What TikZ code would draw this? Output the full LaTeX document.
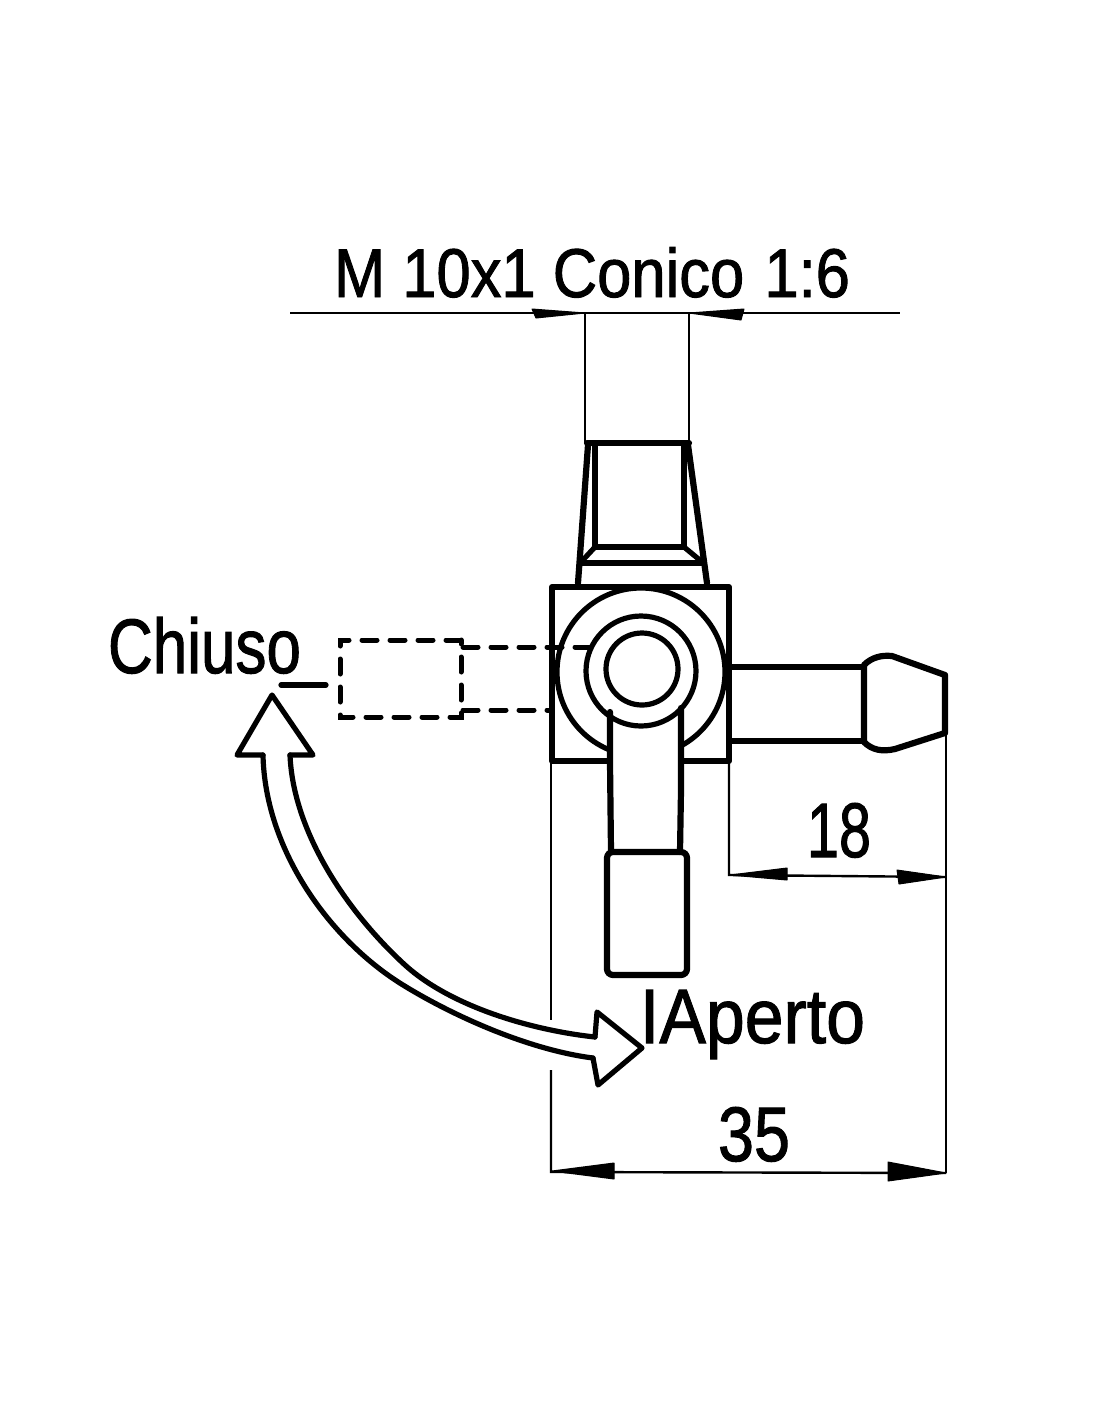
\documentclass[tikz,border=0pt]{standalone}
\usepackage{fontspec}
\usepackage{graphicx}
\setmainfont{Liberation Sans}[FakeBold=1.4]
\tikzset{
  heavy/.style={line width=6.2pt,line cap=round,line join=round},
  medium/.style={line width=5.2pt,line cap=round,line join=round},
  thin line/.style={line width=2.4pt},
  dash line/.style={line width=5pt,dash pattern=on 15pt off 13pt,line cap=round},
  head/.style={fill=black,draw=black,line width=1pt,line join=round},
  lab/.style={anchor=base west,inner sep=0pt,outer sep=0pt}
}
\newcommand{\fitlabel}[3]{\resizebox{#1pt}{#2pt}{\fontsize{60pt}{60pt}\selectfont #3}}
\begin{document}
\begin{tikzpicture}[x=1pt,y=-1pt]
\useasboundingbox (0,0) rectangle (1100,1422);
% labels
\node[lab] (ltop) at (334,297) {\fitlabel{516}{50}{M 10x1 Conico\hspace{3pt} 1:6}};
\node[lab] (lchiuso) at (108,673) {\fitlabel{193}{56}{Chiuso}};
\node[lab] (l18) at (807,857) {\fitlabel{64}{54}{18}};
\node[lab] (l35) at (718,1161) {\fitlabel{72}{54}{35}};
\node[lab] (laperto) at (640,1043) {\fitlabel{225}{53}{IAperto}};
% dimension lines
\draw[thin line] (290,313) -- (900,313);
\draw[thin line] (585,313) -- (585,443);
\draw[thin line] (689,313) -- (689,443);
\draw[thin line] (729,761) -- (729,875) -- (946,877);
\draw[thin line] (946,735) -- (946,1173);
\draw[thin line] (551,761) -- (551,1020);
\draw[thin line] (551,1070) -- (551,1172) -- (946,1173);
\path[head] (585,313) -- (532,309) -- (536,318) -- cycle;
\path[head] (689,313) -- (744,309) -- (741,320) -- cycle;
\path[head] (730,875) -- (787,868) -- (787,880) -- cycle;
\path[head] (946,877) -- (897,870) -- (899,884) -- cycle;
\path[head] (552,1171) -- (614,1163) -- (614,1179) -- cycle;
\path[head] (946,1173) -- (888,1162) -- (888,1181) -- cycle;
% top fitting
\draw[heavy] (587,443) -- (689,443);
\draw[heavy] (588,445) -- (578,583);
\draw[heavy] (688,445) -- (707,583);
\draw[medium] (595,445) -- (595,547) -- (684,547) -- (684,445);
\draw[medium] (595,547) -- (582,561);
\draw[medium] (684,547) -- (701,561);
\draw[medium] (581,563) -- (703,563);
% body
\draw[heavy] (610,761) -- (552,761) -- (552,587) -- (729,587) -- (729,761) -- (679,761);
% hub
\draw[medium] (641,672) circle[radius=84];
\fill[white] (613,700) rectangle (678,790);
\draw[medium] (641,671) circle[radius=55];
\draw[medium] (642,669) circle[radius=36];
% handle
\draw[heavy] (610,712) -- (610,762) -- (611,852);
\draw[heavy] (681,708) -- (681,790) -- (680,852);
\draw[heavy,rounded corners=6pt] (607,852) -- (687,852) -- (687,975) -- (607,975) -- cycle;
% spout
\draw[heavy] (731,667) -- (863,667);
\draw[heavy] (731,741) -- (863,741);
\draw[heavy] (864,665) .. controls (872,657) and (882,655) .. (892,656)
  -- (945,675) -- (945,733) -- (895,749)
  .. controls (882,752) and (872,750) .. (864,742) -- cycle;
% closed position
\draw[dash line] (461,640) -- (340,640) -- (340,717) -- (461,717) -- cycle;
\draw[dash line] (463,647) -- (590,647);
\draw[dash line] (463,710) -- (552,710);
\draw[medium] (281,685) -- (326,685);
% swing arrow
\draw[medium] (263,755) -- (237,755) -- (272,695) -- (313,755) -- (290,755);
\draw[medium] (263,755) .. controls (265,850) and (330,940) .. (403,985)
  .. controls (455,1017) and (530,1050) .. (593,1058);
\draw[medium] (290,755) .. controls (293,830) and (345,910) .. (405,965)
  .. controls (450,1006) and (530,1030) .. (595,1037);
\draw[medium] (595,1037) -- (597,1012) -- (642,1048) -- (598,1085) -- (593,1058);
\end{tikzpicture}
\end{document}
